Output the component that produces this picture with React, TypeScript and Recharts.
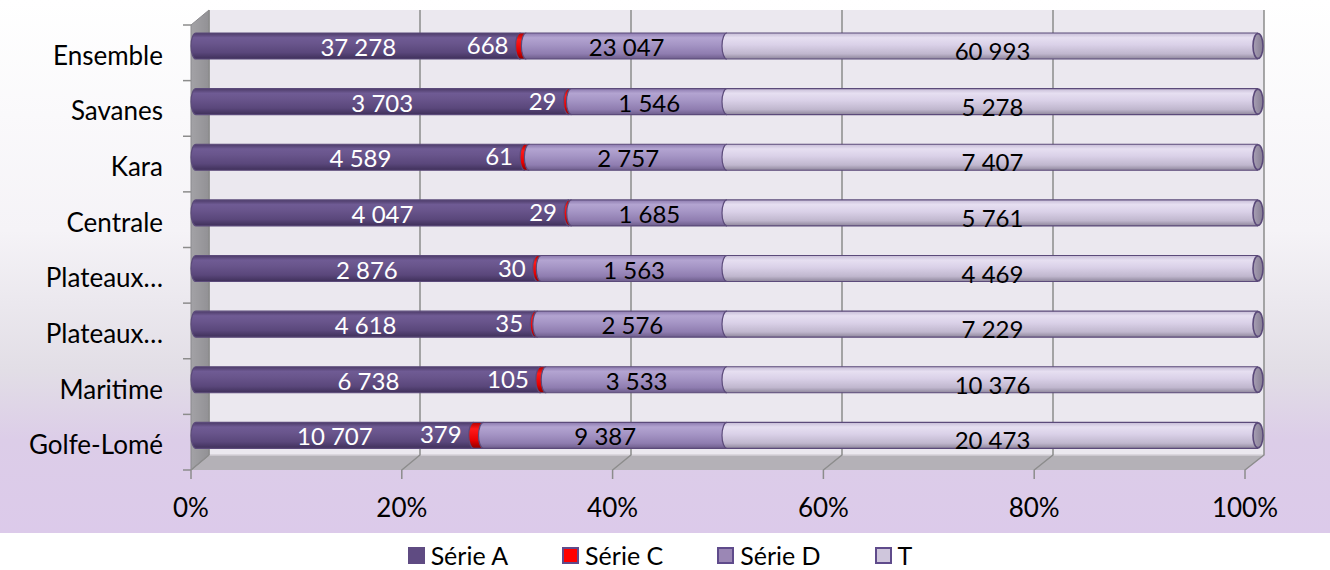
import React from 'react';
import { BarChart, Bar, XAxis, YAxis, CartesianGrid, Legend, LabelList } from 'recharts';

const categories = ['Ensemble', 'Savanes', 'Kara', 'Centrale', 'Plateaux…', 'Plateaux…', 'Maritime', 'Golfe-Lomé'];
const serieA = [37278, 3703, 4589, 4047, 2876, 4618, 6738, 10707];
const serieC = [668, 29, 61, 29, 30, 35, 105, 379];
const serieD = [23047, 1546, 2757, 1685, 1563, 2576, 3533, 9387];
const serieT = [60993, 5278, 7407, 5761, 4469, 7229, 10376, 20473];
const xTicks = [0, 0.2, 0.4, 0.6, 0.8, 1];
const seriesNames = ['Série A', 'Série C', 'Série D', 'T'];

const data = categories.map((name, i) => ({
  name,
  a: serieA[i],
  c: serieC[i],
  d: serieD[i],
  t: serieT[i],
}));

const FONT = 'Lato, "Open Sans", sans-serif';
const W = 1330;
const H = 570;
const M = { top: 18, right: 72, bottom: 57, left: 0 };
const Y_AXIS_W = 196;
const X_AXIS_H = 50;
const PL = M.left + Y_AXIS_W;
const PR = W - M.right;
const PT = M.top;
const PB = H - M.bottom - X_AXIS_H;
const PW = PR - PL;
const BACK_UP = 8;
const FRONT_DOWN = 7;
const back = (v: number) => PL + v * PW + 13 - 7 * v;
const front = (v: number) => PL + v * PW - 5 - 8 * v;

const fmt = (n: number) => String(n).replace(/\B(?=(\d{3})+(?!\d))/g, ' ');

const GRID = '#8c8c8c';
const OUTLINE = '#5b4a7a';

const Walls = (p: any) => {
  if (p.index !== undefined && p.index !== 0) return <g key={p.key} />;
  const bt = PT - BACK_UP;
  const bb = PB - BACK_UP;
  const fb = PB + FRONT_DOWN;
  const bl = back(0);
  const br = back(1);
  const fl = front(0);
  const fr = front(1);
  return (
    <g key={p.key || 'walls'}>
      <rect x={bl} y={bt} width={br - bl} height={bb - bt} fill="#ebe8ef" />
      <polygon points={`${bl},${bb} ${br},${bb} ${fr},${fb} ${fl},${fb}`} fill="#b4b1b7" />
      <line x1={bl} y1={bb} x2={br} y2={bb} stroke="#d4d1d7" strokeWidth={1.5} />
      <polygon
        points={`${fl},${bt + (fb - bb)} ${bl},${bt} ${bl},${bb} ${fl},${fb}`}
        fill="url(#gSide)"
        stroke="#8a898d"
        strokeWidth={1}
      />
    </g>
  );
};

const GridV = (p: any) => {
  const v = (p.x1 - PL) / PW;
  const xb = back(v);
  const xf = front(v);
  return (
    <polyline
      key={p.key}
      points={`${xb},${PT - BACK_UP} ${xb},${PB - BACK_UP} ${xf},${PB + FRONT_DOWN} ${xf},${PB + FRONT_DOWN + 9}`}
      fill="none"
      stroke={GRID}
      strokeWidth={1.5}
    />
  );
};

const XTick = (p: any) => {
  const v = (p.x - PL) / PW;
  const xf = front(v);
  return (
    <text x={xf} y={PB + 54} textAnchor="middle" fill="#000" fontFamily={FONT} fontSize={26}>
      {Math.round(p.payload.value * 100) + '%'}
    </text>
  );
};

const YTick = (p: any) => {
  const { y, payload, index } = p;
  const band = (PB - PT) / categories.length;
  const top = y - band / 2 - BACK_UP + (BACK_UP + FRONT_DOWN);
  const fx = front(0);
  return (
    <g>
      <text x={PL - 33} y={y + 19} textAnchor="end" fill="#000" fontFamily={FONT} fontSize={26}>
        {payload.value}
      </text>
      <line x1={fx - 8} x2={fx} y1={top} y2={top} stroke={GRID} strokeWidth={1.5} />
      {index === categories.length - 1 && (
        <line x1={fx - 8} x2={fx} y1={top + band} y2={top + band} stroke={GRID} strokeWidth={1.5} />
      )}
    </g>
  );
};

const makeShape = (fillId: string, cap: boolean) => (p: any) => {
  const { x, y, width, height } = p;
  if (x == null || y == null || width == null || height == null) return <g />;
  const w = Math.max(width, 0);
  const rx = 5;
  const ry = height / 2;
  const fillD = `M ${x} ${y} L ${x + w} ${y} L ${x + w} ${y + height} L ${x} ${y + height} A ${rx} ${ry} 0 0 1 ${x} ${y} Z`;
  const strokeD = `M ${x + w} ${y + height} L ${x} ${y + height} A ${rx} ${ry} 0 0 1 ${x} ${y} L ${x + w} ${y}`;
  return (
    <g>
      <path d={fillD} fill={`url(#${fillId})`} />
      <path d={strokeD} fill="none" stroke={OUTLINE} strokeWidth={1.2} />
      {cap && (
        <ellipse cx={x + w} cy={y + ry} rx={rx} ry={ry - 0.5} fill="url(#gCap)" stroke={OUTLINE} strokeWidth={1.6} />
      )}
    </g>
  );
};

const makeLabel = (color: string, mode: string, arr: number[]) => (p: any) => {
  const { x, y, width, height, index } = p;
  const value = typeof p.value === 'number' ? p.value : arr[index];
  let tx = x + width / 2;
  let anchor = 'middle';
  let dy = 1;
  if (mode === 'c') {
    tx = x - 12;
    anchor = 'end';
    dy = -1;
  }
  if (mode === 't') dy = 5;
  return (
    <text
      x={tx}
      y={y + height / 2 + 9 + dy}
      textAnchor={anchor}
      fill={color}
      fontFamily={FONT}
      fontSize={24}
    >
      {fmt(value)}
    </text>
  );
};

const swatches = [
  { bg: '#5f4b82', border: '#5f4b82' },
  { bg: '#ff0000', border: '#5f4b8b' },
  { bg: '#9b87b5', border: '#5f4b8b' },
  { bg: '#cfc6dc', border: '#5f4b8b' },
];

const LegendContent = () => (
  <div
    style={{
      display: 'flex',
      justifyContent: 'center',
      alignItems: 'center',
      fontFamily: FONT,
      fontSize: 25,
      color: '#000',
      paddingRight: 10,
    }}
  >
    {seriesNames.map((n, i) => (
      <div key={i} style={{ display: 'flex', alignItems: 'center', marginRight: i < seriesNames.length - 1 ? 54 : 0 }}>
        <span
          style={{
            display: 'inline-block',
            width: 17,
            height: 17,
            background: swatches[i].bg,
            border: `2px solid ${swatches[i].border}`,
            boxSizing: 'border-box',
            marginRight: 6,
          }}
        />
        <span>{n}</span>
      </div>
    ))}
  </div>
);

export default function App() {
  return (
    <div
      style={{
        position: 'absolute',
        left: 0,
        top: 0,
        width: W,
        height: H,
        background:
          'linear-gradient(180deg, #ffffff 0px, #f5f3f7 230px, #e2dee6 370px, #dccde8 440px, #dccaea 533px, #ffffff 533px, #ffffff 570px)',
        fontFamily: FONT,
      }}
    >
      <BarChart
        width={W}
        height={H}
        data={data}
        layout="vertical"
        stackOffset="expand"
        margin={M}
        barSize={26}
      >
        <defs>
          <linearGradient id="gA" x1="0" y1="0" x2="0" y2="1">
            <stop offset="0%" stopColor="#4c3b68" />
            <stop offset="18%" stopColor="#6f5b94" />
            <stop offset="40%" stopColor="#69558c" />
            <stop offset="75%" stopColor="#5a477b" />
            <stop offset="100%" stopColor="#3f305a" />
          </linearGradient>
          <linearGradient id="gC" x1="0" y1="0" x2="0" y2="1">
            <stop offset="0%" stopColor="#b00000" />
            <stop offset="25%" stopColor="#ff1a1a" />
            <stop offset="70%" stopColor="#e60000" />
            <stop offset="100%" stopColor="#8c0000" />
          </linearGradient>
          <linearGradient id="gD" x1="0" y1="0" x2="0" y2="1">
            <stop offset="0%" stopColor="#8c7aae" />
            <stop offset="18%" stopColor="#b3a4d1" />
            <stop offset="45%" stopColor="#a595c5" />
            <stop offset="80%" stopColor="#8f7db0" />
            <stop offset="100%" stopColor="#6d5d8b" />
          </linearGradient>
          <linearGradient id="gT" x1="0" y1="0" x2="0" y2="1">
            <stop offset="0%" stopColor="#c6bcd6" />
            <stop offset="18%" stopColor="#e6dff1" />
            <stop offset="45%" stopColor="#dad1e8" />
            <stop offset="80%" stopColor="#c0b7ce" />
            <stop offset="100%" stopColor="#8e869b" />
          </linearGradient>
          <linearGradient id="gCap" x1="0" y1="0" x2="1" y2="0">
            <stop offset="0%" stopColor="#a8a0b4" />
            <stop offset="100%" stopColor="#857c93" />
          </linearGradient>
          <linearGradient id="gSide" x1="0" y1="0" x2="1" y2="0">
            <stop offset="0%" stopColor="#a3a2a6" />
            <stop offset="100%" stopColor="#929195" />
          </linearGradient>
        </defs>
        <CartesianGrid horizontal={Walls} vertical={GridV} stroke={GRID} />
        <XAxis
          type="number"
          domain={[0, 1]}
          ticks={xTicks}
          axisLine={false}
          tickLine={false}
          tickSize={0}
          tickMargin={0}
          height={X_AXIS_H}
          tick={XTick}
          interval={0}
        />
        <YAxis
          type="category"
          dataKey="name"
          width={Y_AXIS_W}
          axisLine={false}
          tickLine={false}
          tickSize={0}
          tickMargin={0}
          tick={YTick}
          interval={0}
        />
        <Legend
          verticalAlign="middle"
          align="center"
          content={LegendContent}
          wrapperStyle={{ top: 540, left: 0, width: W, height: 32 }}
        />
        <Bar dataKey="a" name="Série A" stackId="s" fill="#5f4b82" shape={makeShape('gA', false)} isAnimationActive={false}>
          <LabelList dataKey="a" content={makeLabel('#ffffff', 'a', serieA)} />
        </Bar>
        <Bar dataKey="c" name="Série C" stackId="s" fill="#ff0000" shape={makeShape('gC', false)} isAnimationActive={false}>
          <LabelList dataKey="c" content={makeLabel('#ffffff', 'c', serieC)} />
        </Bar>
        <Bar dataKey="d" name="Série D" stackId="s" fill="#9b87b5" shape={makeShape('gD', false)} isAnimationActive={false}>
          <LabelList dataKey="d" content={makeLabel('#000000', 'd', serieD)} />
        </Bar>
        <Bar dataKey="t" name="T" stackId="s" fill="#cfc6dc" shape={makeShape('gT', true)} isAnimationActive={false}>
          <LabelList dataKey="t" content={makeLabel('#000000', 't', serieT)} />
        </Bar>
      </BarChart>
    </div>
  );
}
